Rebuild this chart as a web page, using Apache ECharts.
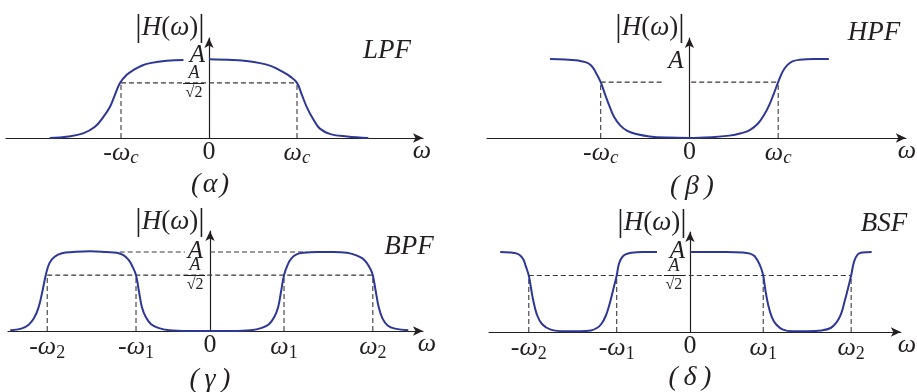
<!DOCTYPE html>
<html><head><meta charset="utf-8">
<script src="https://cdn.jsdelivr.net/npm/echarts@6/dist/echarts.min.js"></script>
<style>html,body{margin:0;padding:0;background:#fff}#c{width:917px;height:392px}</style>
</head><body><div id="c"></div>
<script>
// ---------- data (x in units of the cutoff frequency, y in units of A) ----------
const halfPower = 0.7071;   // A/√2
const passLevel = 1;        // A

// (α) LPF
const lpfLeftX  = [-1.81, -1.60, -1.43, -1.30, -1.20, -1.125, -1.07, -1.01, -0.935, -0.86, -0.76, -0.67, -0.48, -0.29];
const lpfLeftY  = [0.00, 0.02, 0.06, 0.14, 0.27, 0.40, 0.55, 0.707, 0.81, 0.87, 0.93, 0.96, 0.99, 1.00];
const lpfRightX = [0.00, 0.27, 0.45, 0.58, 0.70, 0.77, 0.85, 0.92, 1.00, 1.05, 1.11, 1.19, 1.26, 1.38, 1.57, 1.81];
const lpfRightY = [1.01, 1.00, 0.985, 0.96, 0.925, 0.89, 0.84, 0.79, 0.707, 0.57, 0.40, 0.23, 0.12, 0.05, 0.02, 0.00];

// (β) HPF
const hpfX = [-1.57, -1.40, -1.25, -1.17, -1.11, -1.06, -1.00, -0.95, -0.90, -0.85, -0.78, -0.70, -0.60, -0.45, -0.25, 0.00,
              0.25, 0.45, 0.58, 0.68, 0.77, 0.84, 0.90, 0.95, 1.00, 1.05, 1.10, 1.16, 1.24, 1.40, 1.57];
const hpfY = [1.00, 0.995, 0.98, 0.96, 0.92, 0.84, 0.707, 0.55, 0.40, 0.27, 0.16, 0.09, 0.05, 0.02, 0.005, 0.00,
              0.01, 0.03, 0.06, 0.10, 0.18, 0.29, 0.42, 0.56, 0.707, 0.84, 0.92, 0.97, 0.99, 1.00, 1.00];

// (γ) BPF
const bpfX = [-2.70, -2.55, -2.45, -2.38, -2.32, -2.27, -2.22, -2.17, -2.10, -2.00, -1.85, -1.62, -1.40, -1.26, -1.17, -1.10, -1.05, -1.00, -0.96, -0.92, -0.87, -0.80, -0.70, -0.55, -0.30, 0.00,
              0.30, 0.55, 0.70, 0.80, 0.87, 0.92, 0.96, 1.00, 1.05, 1.10, 1.17, 1.26, 1.45, 1.67, 1.85, 1.97, 2.06, 2.12, 2.17, 2.20, 2.24, 2.28, 2.33, 2.40, 2.50, 2.68];
const bpfY = [0.01, 0.03, 0.08, 0.16, 0.29, 0.48, 0.707, 0.86, 0.94, 0.985, 1.00, 1.01, 1.00, 0.99, 0.96, 0.90, 0.82, 0.707, 0.50, 0.30, 0.18, 0.09, 0.04, 0.01, 0.00, 0.00,
              0.00, 0.01, 0.04, 0.09, 0.18, 0.30, 0.50, 0.707, 0.84, 0.92, 0.97, 0.99, 1.00, 1.00, 0.99, 0.96, 0.92, 0.86, 0.78, 0.707, 0.50, 0.30, 0.16, 0.07, 0.03, 0.01];

// (δ) BSF
const bsfLeftX  = [-2.59, -2.45, -2.36, -2.31, -2.27, -2.24, -2.20, -2.17, -2.14, -2.09, -2.02, -1.90, -1.70, -1.50, -1.35, -1.27, -1.21, -1.15, -1.10, -1.05, -1.00, -0.97, -0.93, -0.88, -0.80, -0.65, -0.45];
const bsfLeftY  = [1.00, 0.995, 0.98, 0.95, 0.90, 0.82, 0.707, 0.55, 0.40, 0.22, 0.10, 0.03, 0.01, 0.01, 0.02, 0.05, 0.10, 0.20, 0.34, 0.52, 0.707, 0.85, 0.93, 0.97, 0.99, 1.00, 1.00];
const bsfRightX = [0.00, 0.50, 0.72, 0.82, 0.88, 0.93, 0.97, 1.00, 1.03, 1.07, 1.12, 1.18, 1.27, 1.40, 1.60, 1.80, 1.92, 2.00, 2.06, 2.11, 2.15, 2.20, 2.24, 2.29, 2.35, 2.48];
const bsfRightY = [1.00, 1.00, 0.995, 0.98, 0.95, 0.88, 0.80, 0.707, 0.52, 0.33, 0.18, 0.09, 0.03, 0.01, 0.01, 0.02, 0.05, 0.12, 0.22, 0.38, 0.52, 0.707, 0.88, 0.97, 0.995, 1.00];

// cutoff frequencies and tick labels
const cutTicks = [-1, 0, 1];
const cutTickLabels = ['{m|-}{w|ω}{c|c}', '{z|0}', '{w|ω}{c|c}'];
const bandTicks = [-2.2, -1, 0, 1, 2.2];
const bandTickLabels = ['{m|-}{w|ω}{s|2}', '{m|-}{w|ω}{s|1}', '{z|0}', '{w|ω}{s|1}', '{w|ω}{s|2}'];
const levelLabelA = 'A';
const levelLabelHalf = '{n|A}\n{d|√2}';

// dashed guide segments [x1, y1, x2, y2]
const lpfGuides = [[-1, halfPower, 1, halfPower], [-1, 0, -1, halfPower], [1, 0, 1, halfPower]];
const hpfGuides = [[-1, halfPower, -0.31, halfPower], [0.02, halfPower, 1, halfPower], [-1, 0, -1, halfPower], [1, 0, 1, halfPower]];
const bpfGuides = [[-1.22, passLevel, -0.34, passLevel], [0, passLevel, 1.31, passLevel], [-2.2, halfPower, 2.2, halfPower],
                   [-2.2, 0, -2.2, halfPower], [-1, 0, -1, halfPower], [1, 0, 1, halfPower], [2.2, 0, 2.2, halfPower]];
const bsfGuides = [[-2.2, halfPower, 2.2, halfPower],
                   [-2.2, 0, -2.2, halfPower], [-1, 0, -1, halfPower], [1, 0, 1, halfPower], [2.2, 0, 2.2, halfPower]];

// ---------- styling / layout ----------
const FONT = '"Liberation Serif", "Times New Roman", serif';
const INK = '#231f20';
const CURVE = '#2d3796';
const DASH = '#3a3a3a';

const grids = [
  {left: 6,   top: 38,  width: 417, height: 100},
  {left: 487, top: 38,  width: 420, height: 100},
  {left: 8,   top: 231, width: 415, height: 100},
  {left: 489, top: 232, width: 416, height: 100}
];
const xRanges = [[-2.307, 2.432], [-2.281, 2.438], [-2.730, 2.878], [-2.743, 2.878]];
const yMax = [1.282, 1.266, 1.266, 1.25];

const xRich = {
  m: {fontFamily: FONT, fontSize: 26, color: INK},
  w: {fontFamily: FONT, fontSize: 26, fontStyle: 'italic', color: INK},
  c: {fontFamily: FONT, fontSize: 19, fontStyle: 'italic', color: INK, padding: [9, 0, 0, 0]},
  s: {fontFamily: FONT, fontSize: 18, color: INK, padding: [12, 0, 0, 0]},
  z: {fontFamily: FONT, fontSize: 26, color: INK}
};

function nearest(arr, v) {
  let bi = 0, bd = Infinity;
  arr.forEach((a, i) => { const d = Math.abs(a - v); if (d < bd) { bd = d; bi = i; } });
  return bi;
}

const axisLineStyle = {color: INK, width: 1.2};

function xAxisCfg(i, ticks, labels, nameGap) {
  return {
    type: 'value', gridIndex: i, min: xRanges[i][0], max: xRanges[i][1],
    axisLine: {onZero: true, lineStyle: axisLineStyle, symbol: ['none', 'arrow'], symbolSize: [7, 10]},
    axisTick: {show: false}, splitLine: {show: false},
    axisLabel: {customValues: ticks, margin: 1, fontFamily: FONT, fontSize: 26, color: INK,
      formatter: v => labels[nearest(ticks, v)], rich: xRich},
    name: 'ω', nameLocation: 'end', nameGap: nameGap,
    nameTextStyle: {fontFamily: FONT, fontSize: 26, fontStyle: 'italic', color: INK,
      align: 'center', verticalAlign: 'top', lineHeight: 26}
  };
}

function yAxisCfg(i) {
  return {
    type: 'value', gridIndex: i, min: 0, max: yMax[i],
    axisLine: {onZero: true, lineStyle: axisLineStyle, symbol: ['none', 'arrow'], symbolSize: [7, 10]},
    axisTick: {show: false}, splitLine: {show: false}, axisLabel: {show: false}
  };
}

function curve(i, xs, ys) {
  return {type: 'line', xAxisIndex: i, yAxisIndex: i, showSymbol: false, symbol: 'none',
    smooth: 0.4, z: 4, silent: true,
    lineStyle: {color: CURVE, width: 2},
    data: xs.map((x, k) => [x, ys[k]])};
}
function guides(i, segs) {
  return segs.map(s => ({type: 'line', xAxisIndex: i, yAxisIndex: i, showSymbol: false, symbol: 'none',
    z: 2, silent: true, lineStyle: {color: DASH, width: 1.1, type: [5, 3]},
    data: [[s[0], s[1]], [s[2], s[3]]]}));
}

const chart = echarts.init(document.getElementById('c'), null, {renderer: 'canvas'});
chart.setOption({
  animation: false,
  backgroundColor: '#fff',
  grid: grids.map(g => Object.assign({containLabel: false}, g)),
  xAxis: [
    xAxisCfg(0, cutTicks, cutTickLabels, -1),
    xAxisCfg(1, cutTicks, cutTickLabels, 1),
    xAxisCfg(2, bandTicks, bandTickLabels, 4),
    xAxisCfg(3, bandTicks, bandTickLabels, 6)
  ],
  yAxis: [yAxisCfg(0), yAxisCfg(1), yAxisCfg(2), yAxisCfg(3)],
  series: [
    ...guides(0, lpfGuides), curve(0, lpfLeftX, lpfLeftY), curve(0, lpfRightX, lpfRightY),
    ...guides(1, hpfGuides), curve(1, hpfX, hpfY),
    ...guides(2, bpfGuides), curve(2, bpfX, bpfY),
    ...guides(3, bsfGuides), curve(3, bsfLeftX, bsfLeftY), curve(3, bsfRightX, bsfRightY)
  ]
});

// ---------- text annotations ----------
const magRich = {
  b: {fontFamily: FONT, fontSize: 32, color: INK},
  h: {fontFamily: FONT, fontSize: 27, fontStyle: 'italic', color: INK},
  p: {fontFamily: FONT, fontSize: 27, color: INK},
  w: {fontFamily: FONT, fontSize: 27, fontStyle: 'italic', color: INK}
};
const fracRich = {
  n: {fontFamily: FONT, fontSize: 18, fontStyle: 'italic', color: INK, align: 'center', lineHeight: 19},
  d: {fontFamily: FONT, fontSize: 16, color: INK, align: 'center', lineHeight: 19}
};
const magText = '{b||}{h|H}{p|(}{w|ω}{p|)}{b||}';
function txt(x, y, text, extra) {
  return {type: 'text', x: x, y: y, z: 10, silent: true,
    style: Object.assign({text: text, fontFamily: FONT, fontSize: 27, fill: INK, align: 'center', verticalAlign: 'middle'}, extra || {})};
}
const graphics = [
  txt(170, 28, magText, {rich: magRich}),
  txt(650, 28, magText, {rich: magRich}),
  txt(170, 222, magText, {rich: magRich}),
  txt(652, 223, magText, {rich: magRich}),
  txt(387, 51, 'LPF', {fontStyle: 'italic'}),
  txt(874, 33, 'HPF', {fontStyle: 'italic'}),
  txt(409, 247, 'BPF', {fontStyle: 'italic'}),
  txt(884, 224, 'BSF', {fontStyle: 'italic'}),
  txt(210, 185, '(\u200Aα\u200A)', {fontSize: 28, fontStyle: 'italic'}),
  txt(692, 187, '(\u2009β\u2009)', {fontSize: 28, fontStyle: 'italic'}),
  txt(210, 380, '(\u2009γ\u2009)', {fontSize: 28, fontStyle: 'italic'}),
  txt(690, 378, '(\u2009δ\u2009)', {fontSize: 28, fontStyle: 'italic'})
];
// level labels on the y-axes: [grid, level, text, dx, dy]
const levelLabels = [
  [0, passLevel, levelLabelA, -4, -5], [0, halfPower, levelLabelHalf, -15, 0],
  [1, passLevel, levelLabelA, -6, 2],
  [2, passLevel, levelLabelA, -7, -1], [2, halfPower, levelLabelHalf, -15, 0],
  [3, passLevel, levelLabelA, -5, -1], [3, halfPower, levelLabelHalf, -16, 0]
];
levelLabels.forEach(l => {
  const p = chart.convertToPixel({gridIndex: l[0]}, [0, l[1]]);
  if (l[2] === levelLabelA) {
    graphics.push(txt(p[0] + l[3], p[1] + l[4], l[2], {fontSize: 25, fontStyle: 'italic', align: 'right'}));
  } else {
    graphics.push(txt(p[0] + l[3], p[1] + l[4], l[2], {rich: fracRich, align: 'center'}));
    graphics.push({type: 'line', z: 10, silent: true,
      shape: {x1: p[0] - 26, y1: Math.round(p[1]) + 0.5, x2: p[0] - 5, y2: Math.round(p[1]) + 0.5},
      style: {stroke: INK, lineWidth: 1}});
  }
});
chart.setOption({graphic: graphics});
</script></body></html>
